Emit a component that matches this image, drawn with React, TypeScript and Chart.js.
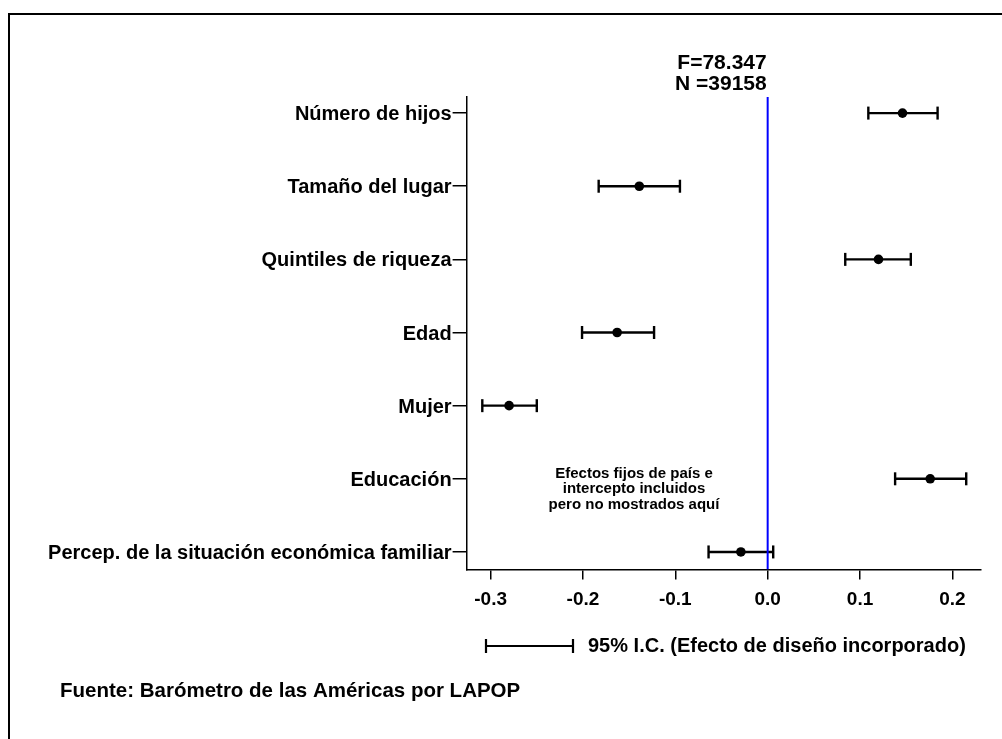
import React, { useEffect, useRef } from 'react';
import { Chart, registerables } from 'chart.js';

Chart.register(...registerables);

const CATEGORIES = [
  'Número de hijos',
  'Tamaño del lugar',
  'Quintiles de riqueza',
  'Edad',
  'Mujer',
  'Educación',
  'Percep. de la situación económica familiar',
];
const ESTIMATES = [0.146, -0.139, 0.120, -0.163, -0.280, 0.176, -0.029];
const CI_LOW = [0.109, -0.183, 0.084, -0.201, -0.309, 0.138, -0.064];
const CI_HIGH = [0.184, -0.095, 0.155, -0.123, -0.250, 0.215, 0.006];
const X_TICKS = [-0.3, -0.2, -0.1, 0.0, 0.1, 0.2];
const X_TICK_LABELS = ['-0.3', '-0.2', '-0.1', '0.0', '0.1', '0.2'];
const X_MIN = -0.326;
const X_MAX = 0.231;
const Y_MIN = -0.22;
const Y_MAX = 6.24;
const F_STAT = 'F=78.347';
const N_OBS = 'N =39158';
const NOTE_LINES = ['Efectos fijos de país e', 'intercepto incluidos', 'pero no mostrados aquí'];
const LEGEND_TEXT = '95% I.C. (Efecto de diseño incorporado)';
const SOURCE_TEXT = 'Fuente: Barómetro de las Américas por LAPOP';

const FONT = '"Liberation Sans", Arial, Helvetica, sans-serif';

const textPlugin = {
  id: 'extraText',
  afterDraw(chart: any) {
    const ctx = chart.ctx;
    const xs = chart.scales.x;
    const zeroX = xs.getPixelForValue(0);
    ctx.save();
    ctx.fillStyle = '#000';
    ctx.strokeStyle = '#000';
    // F and N
    ctx.font = `bold 21px ${FONT}`;
    ctx.textAlign = 'right';
    ctx.textBaseline = 'middle';
    ctx.fillText(F_STAT, zeroX - 1, 63);
    ctx.fillText(N_OBS, zeroX - 1, 84);
    // note
    ctx.font = `bold 15px ${FONT}`;
    ctx.textAlign = 'center';
    NOTE_LINES.forEach((l, i) => ctx.fillText(l, 634, 474 + i * 15.3));
    // legend
    ctx.lineWidth = 2.2;
    ctx.beginPath();
    ctx.moveTo(486, 646);
    ctx.lineTo(573, 646);
    ctx.moveTo(486, 639);
    ctx.lineTo(486, 653);
    ctx.moveTo(573, 639);
    ctx.lineTo(573, 653);
    ctx.stroke();
    ctx.font = `bold 20px ${FONT}`;
    ctx.textAlign = 'left';
    ctx.fillText(LEGEND_TEXT, 588, 646);
    // source
    ctx.font = `bold 20.5px ${FONT}`;
    ctx.fillText(SOURCE_TEXT, 60, 691);
    ctx.restore();
  },
};

export default function App() {
  const ref = useRef<HTMLCanvasElement | null>(null);
  useEffect(() => {
    if (!ref.current) return;
    const ciSets = CATEGORIES.map((_, i) => ({
      type: 'line' as const,
      data: [
        { x: CI_LOW[i], y: i },
        { x: CI_HIGH[i], y: i },
      ],
      borderColor: '#000',
      borderWidth: 2.4,
      showLine: true,
      pointStyle: 'line' as const,
      pointRotation: 90,
      pointRadius: 6.5,
      pointBorderWidth: 2.4,
      pointBorderColor: '#000',
      pointBackgroundColor: '#000',
      clip: false as any,
      order: 3,
    }));
    const chart = new Chart(ref.current, {
      type: 'scatter',
      data: {
        datasets: [
          ...ciSets,
          {
            type: 'scatter' as const,
            data: ESTIMATES.map((v, i) => ({ x: v, y: i })),
            pointRadius: 4.8,
            pointBackgroundColor: '#000',
            pointBorderColor: '#000',
            pointBorderWidth: 0,
            clip: false as any,
            order: 2,
          },
          {
            type: 'line' as const,
            data: [
              { x: 0, y: Y_MIN },
              { x: 0, y: Y_MAX },
            ],
            borderColor: '#0000ff',
            borderWidth: 2,
            pointRadius: 0,
            showLine: true,
            order: 1,
          },
        ] as any,
      },
      options: {
        animation: false,
        responsive: false,
        devicePixelRatio: 1,
        events: [],
        layout: { padding: { left: 0, top: 97, right: 21, bottom: 109.5 } },
        plugins: { legend: { display: false }, tooltip: { enabled: false } },
        scales: {
          x: {
            type: 'linear',
            min: X_MIN,
            max: X_MAX,
            afterBuildTicks: (axis: any) => {
              axis.ticks = X_TICKS.map((v) => ({ value: v }));
            },
            afterFit: (axis: any) => {
              axis.height = 60;
            },
            ticks: {
              autoSkip: false,
              maxRotation: 0,
              padding: 9,
              color: '#000',
              font: { family: FONT, size: 19, weight: 'bold' },
              callback: (v: any) => {
                const idx = X_TICKS.findIndex((t) => Math.abs(t - Number(v)) < 1e-9);
                return idx >= 0 ? X_TICK_LABELS[idx] : '';
              },
            },
            grid: {
              drawOnChartArea: false,
              drawTicks: true,
              tickLength: 10,
              color: '#000',
              lineWidth: 1.5,
            },
            border: { display: true, color: '#000', width: 1.5 },
          },
          y: {
            type: 'linear',
            reverse: true,
            min: Y_MIN,
            max: Y_MAX,
            afterBuildTicks: (axis: any) => {
              axis.ticks = CATEGORIES.map((_, i) => ({ value: i }));
            },
            afterFit: (axis: any) => {
              axis.width = 466.6;
            },
            ticks: {
              autoSkip: false,
              padding: 1,
              labelOffset: 1.5,
              color: '#000',
              font: { family: FONT, size: 20, weight: 'bold' },
              callback: (v: any) => CATEGORIES[Math.round(Number(v))] ?? '',
            },
            grid: {
              drawOnChartArea: false,
              drawTicks: true,
              tickLength: 14,
              color: '#000',
              lineWidth: 1.5,
            },
            border: { display: true, color: '#000', width: 1.5 },
          },
        },
      },
      plugins: [textPlugin],
    });
    return () => chart.destroy();
  }, []);

  return (
    <div
      style={{
        position: 'fixed',
        left: 0,
        top: 0,
        width: 1002,
        height: 739,
        overflow: 'hidden',
        background: '#fff',
      }}
    >
      <div
        style={{
          position: 'absolute',
          left: 8,
          top: 13,
          width: 1200,
          height: 1000,
          borderTop: '2px solid #000',
          borderLeft: '2px solid #000',
        }}
      />
      <canvas
        ref={ref}
        width={1002}
        height={739}
        style={{ position: 'absolute', left: 0, top: 0, width: 1002, height: 739 }}
      />
    </div>
  );
}
